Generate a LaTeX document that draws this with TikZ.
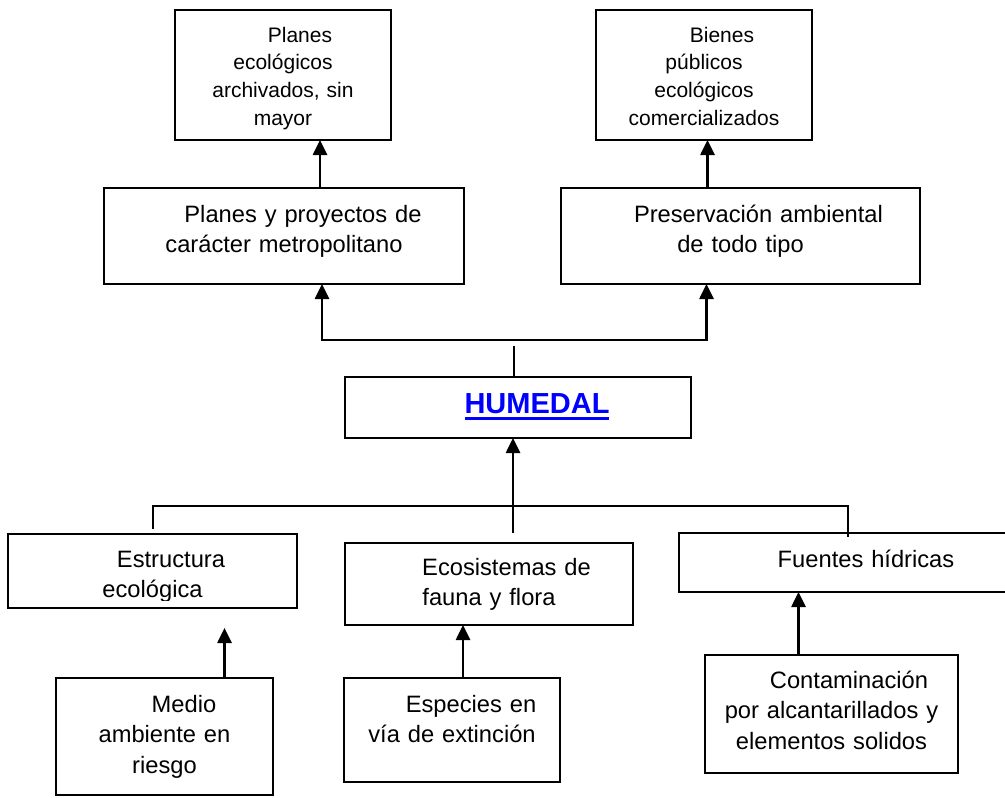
\documentclass[tikz,border=0pt]{standalone}
\usepackage{fontspec}
\setmainfont{Liberation Sans}
\usepackage{tikz}
\usetikzlibrary{arrows.meta}
\newcommand{\subrayar}[1]{\setbox0=\hbox{#1}\rlap{\rule[-7pt]{\wd0}{3pt}}\box0}

\begin{document}
\begin{tikzpicture}[x=1pt,y=-1pt]
\tikzset{
    caja/.style={rectangle, draw=black, line width=1.8pt, inner sep=0pt, outer sep=0pt,
                 anchor=north west, align=center, font=\fontsize{23.7}{30.5}\selectfont},
    cajaalta/.style={caja, font=\fontsize{21}{27.7}\selectfont},
    cajacentral/.style={caja, text=blue, font=\bfseries\fontsize{29}{34}\selectfont},
    flecha/.style={-{Triangle[length=15pt,width=14pt]}, line width=2.6pt},
    linea/.style={line width=2pt}
}
\useasboundingbox (0,0) rectangle (1005,798);
\fill[white] (0,0) rectangle (1005,798);

\node[cajaalta, text width=216pt, text height=32pt, text depth=98pt] (archivados) at (175,10) {\hspace*{34pt}Planes\\ ecológicos\\ archivados, sin\\ mayor};
\node[cajaalta, text width=216pt, text height=32pt, text depth=98pt] (bienes) at (596,10) {\hspace*{36pt}Bienes\\ públicos\\ ecológicos\\ comercializados};
\node[caja, text width=360pt, text height=34pt, text depth=62pt] (planes) at (104,188) {\hspace*{38pt}Planes y proyectos de\\ carácter metropolitano};
\node[caja, text width=359pt, text height=34pt, text depth=62pt] (preservacion) at (561,188) {\hspace*{36pt}Preservación ambiental\\ de todo tipo};
\node[cajacentral, text width=346pt, text height=36pt, text depth=25pt] (humedal) at (345,377) {\hspace*{38pt}\subrayar{HUMEDAL}};

\node[caja, text width=289pt, text height=74pt, text depth=0pt] (estructura) at (8,534) {};
\begin{scope}
\clip (8,534) rectangle (297,600);
\node[caja, draw=none, text width=289pt, text height=33pt, text depth=41pt] (estructuratxt) at (8,534) {\hspace*{37pt}Estructura\\ ecológica};
\end{scope}
\node[caja, text width=288pt, text height=32pt, text depth=50pt] (ecosistemas) at (345,543) {\hspace*{35pt}Ecosistemas de\\ fauna y flora};
\node[caja, text width=338pt, text height=34pt, text depth=25pt] (fuentes) at (679,533) {\hspace*{36pt}Fuentes hídricas};

\node[caja, text width=217pt, text height=34pt, text depth=83pt] (medio) at (56,678) {\hspace*{39pt}Medio\\ ambiente en\\ riesgo};
\node[caja, text width=216pt, text height=34pt, text depth=70pt] (especies) at (344,678) {\hspace*{38pt}Especies en\\ vía de extinción};
\node[caja, text width=253pt, text height=33pt, text depth=85pt] (contaminacion) at (705,655) {\hspace*{35pt}Contaminación\\ por alcantarillados y\\ elementos solidos};

\coordinate (salidaA) at ([xshift=36pt]planes.north);
\coordinate (salidaB) at ([xshift=-33pt]preservacion.north);
\draw[flecha] (salidaA) -- (salidaA |- archivados.south);
\draw[flecha] (salidaB) -- (salidaB |- bienes.south);

\coordinate (ramasup) at (514,340);
\coordinate (llegadaA) at ([xshift=38pt]planes.south);
\coordinate (llegadaB) at ([xshift=-34pt]preservacion.south);
\draw[linea] ([xshift=-4pt]humedal.north) -- ++(0,-31);
\draw[flecha] (ramasup) -| (llegadaA);
\draw[flecha] (ramasup) -| (llegadaB);

\coordinate (ramainf) at (513,506);
\coordinate (arranque) at (513,533);
\draw[linea] (ramainf) -| ([yshift=5pt]estructura.north);
\draw[linea] (ramainf) -| ([yshift=-4pt]fuentes.north);
\draw[flecha] (arranque) -- (arranque |- humedal.south);

\coordinate (salidaE) at ([xshift=11pt]especies.north);
\coordinate (salidaC) at ([xshift=-33pt]contaminacion.north);
\draw[flecha] ([xshift=60pt]medio.north) -- +(0,-50);
\draw[flecha] (salidaE) -- (salidaE |- ecosistemas.south);
\draw[flecha] (salidaC) -- (salidaC |- fuentes.south);
\end{tikzpicture}
\end{document}
